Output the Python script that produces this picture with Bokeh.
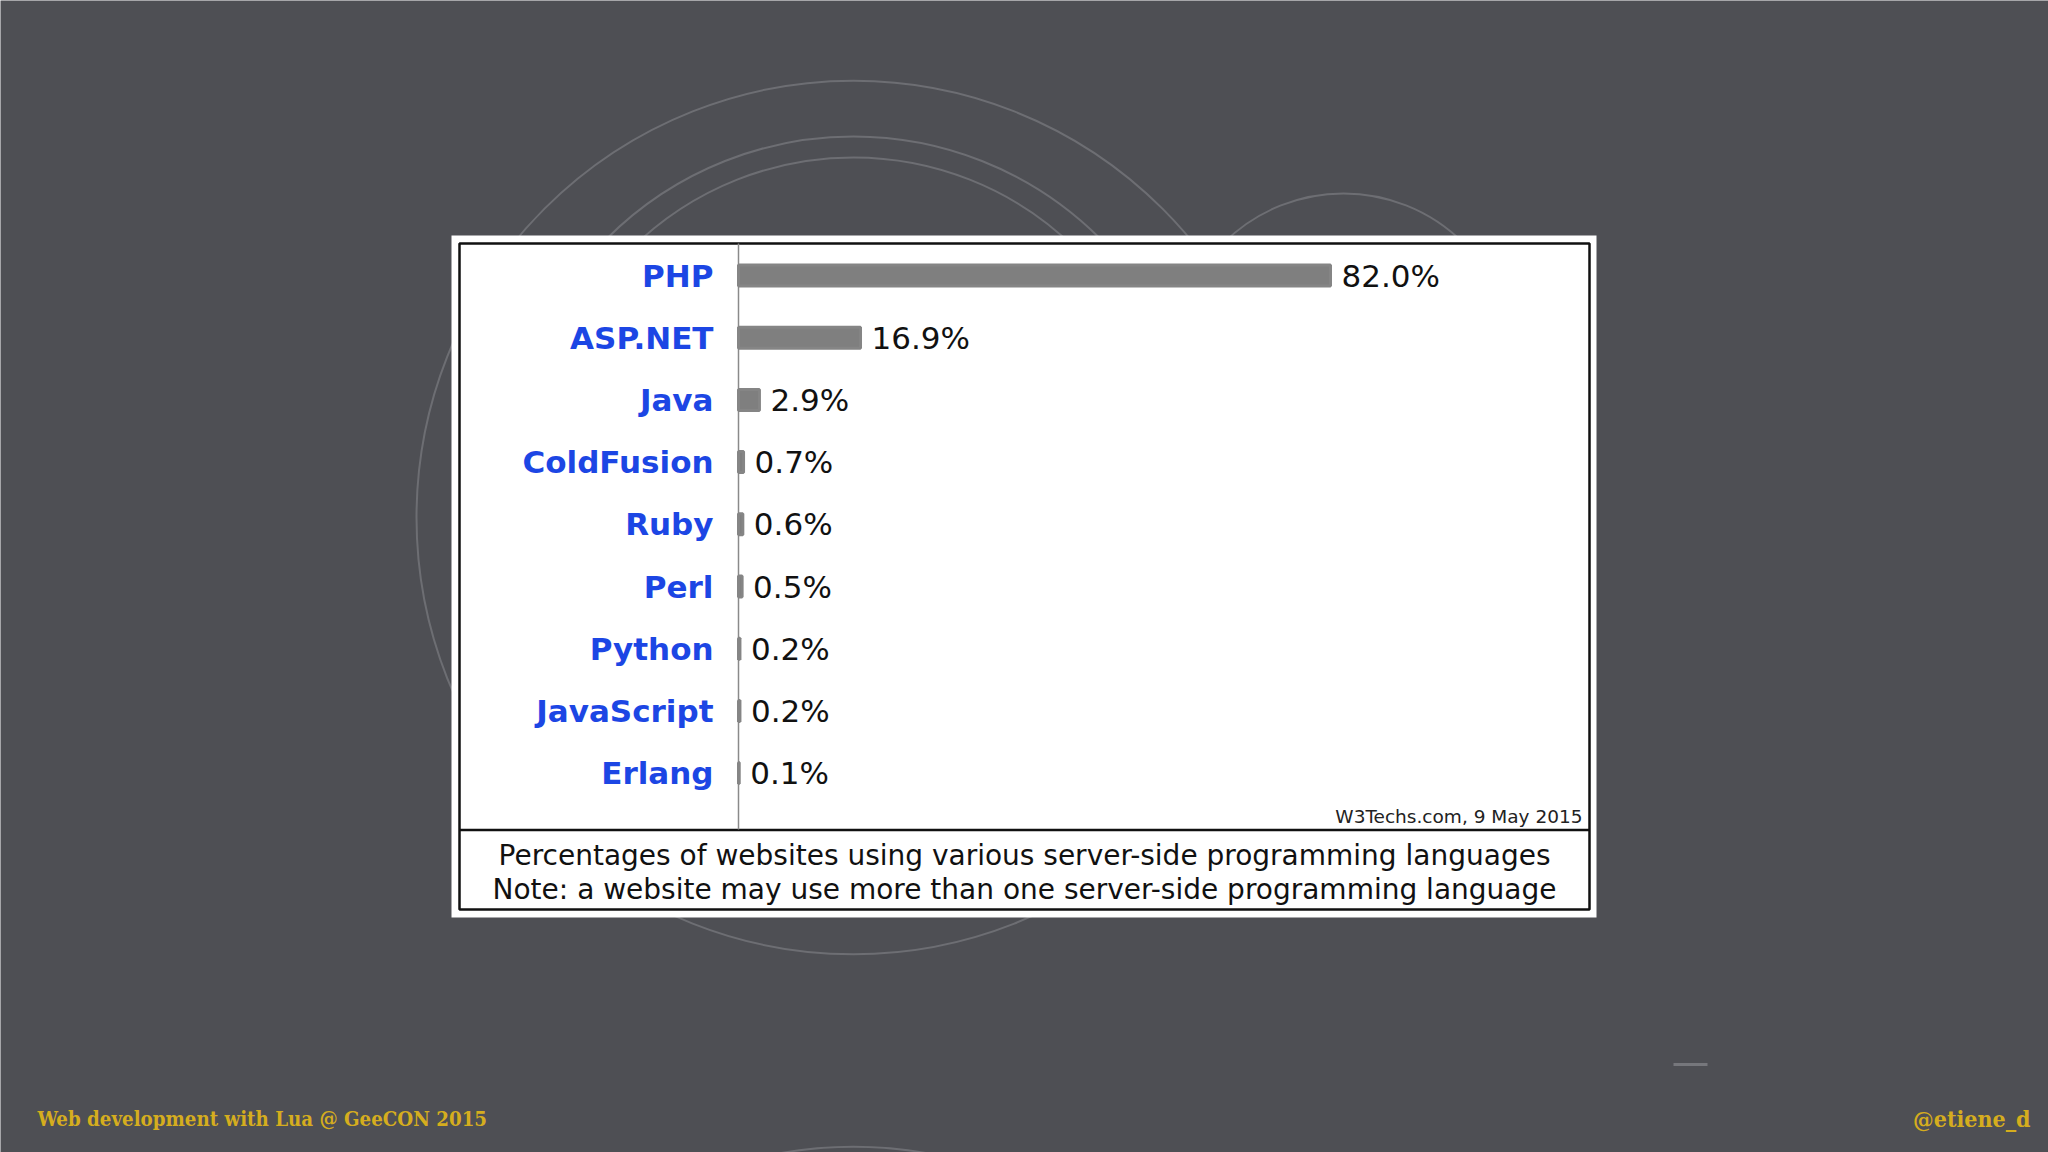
from bokeh.plotting import figure
from bokeh.models import Range1d, Label
from bokeh.core.properties import value
from bokeh.embed import file_html
from bokeh.resources import INLINE

# ---- data ----
languages = ["PHP", "ASP.NET", "Java", "ColdFusion", "Ruby", "Perl",
             "Python", "JavaScript", "Erlang"]
shares = [82.0, 16.9, 2.9, 0.7, 0.6, 0.5, 0.2, 0.2, 0.1]
share_labels = ["82.0%", "16.9%", "2.9%", "0.7%", "0.6%", "0.5%",
                "0.2%", "0.2%", "0.1%"]
source_note = "W3Techs.com, 9 May 2015"
caption_lines = ["Percentages of websites using various server-side programming languages",
                 "Note: a website may use more than one server-side programming language"]
footer_left = "Web development with Lua @ GeeCON 2015"
footer_right = "@etiene_d"

# ---- geometry (page pixels) ----
W, H, OFF = 2048, 1152, 0
X0 = 738.0            # page x of 0 %
SX = 592.0 / 82.0     # page px per percent
Y0 = 275.0            # page y of first row centre
ROW = 62.2            # page px per row

def X(px):
    return (px - X0) / SX

def Y(py):
    return (py - Y0) / ROW

BG = "#4e4f54"
ARC = "#6d6e73"
GOLD = "#d5ad1e"
BLUE = "#1c46e4"

p = figure(width=W, height=H, output_backend="svg", toolbar_location=None,
           x_range=Range1d(X(OFF), X(OFF + W)),
           y_range=Range1d(Y(OFF + H), Y(OFF)),
           x_axis_location=None, y_axis_location=None,
           min_border=0, background_fill_color=BG, border_fill_color=BG,
           outline_line_color=None)
p.grid.visible = False

# background arcs (circles partly hidden by the chart box)
circ_x = [X(853), X(853), X(853), X(1343), X(853)]
circ_y = [Y(517), Y(485), Y(473), Y(363), Y(1556)]
circ_d = [2 * 437, 2 * 349, 2 * 316, 2 * 170, 2 * 410]
p.scatter(x=circ_x, y=circ_y, size=circ_d, marker="circle",
          fill_color=None, line_color=ARC, line_width=2)

# small dash bottom right
p.segment(x0=[X(1673)], y0=[Y(1064)], x1=[X(1707)], y1=[Y(1064)],
          line_color="#76777c", line_width=3)

# chart box
p.quad(left=[X(451)], right=[X(1596)], top=[Y(235)], bottom=[Y(917)],
       fill_color="white", line_color=None)
p.quad(left=[X(459)], right=[X(1589)], top=[Y(243)], bottom=[Y(909)],
       fill_color=None, line_color="#111111", line_width=2.5)
# footer separator and axis divider
p.segment(x0=[X(459)], y0=[Y(829.5)], x1=[X(1589)], y1=[Y(829.5)],
          line_color="#111111", line_width=2.5)
p.segment(x0=[0], y0=[Y(243)], x1=[0], y1=[Y(829)],
          line_color="#8a8a8a", line_width=1.5)

idx = list(range(len(languages)))

p.hbar(y=idx, left=0, right=shares, height=21 / ROW,
       fill_color="#7f7f7f", line_color="#858585", line_width=3)

p.text(x=[0] * len(languages), y=idx, text=languages, x_offset=-25,
       text_align="right", text_baseline="middle",
       text_font=value("DejaVu Sans"), text_font_style="bold",
       text_font_size="31px", text_color=BLUE)

p.text(x=shares, y=idx, text=share_labels, x_offset=11,
       text_align="left", text_baseline="middle",
       text_font=value("DejaVu Sans"), text_font_size="31px",
       text_color="#111111")

p.add_layout(Label(x=X(1582), y=Y(816), text=source_note, text_align="right",
                   text_baseline="middle", text_font="DejaVu Sans",
                   text_font_size="18.5px", text_color="#222222"))
for line, yy in zip(caption_lines, [855, 889]):
    p.add_layout(Label(x=X(1024), y=Y(yy), text=line, text_align="center",
                       text_baseline="middle", text_font="DejaVu Sans",
                       text_font_size="28px", text_color="#111111"))

p.add_layout(Label(x=X(37), y=Y(1118), text=footer_left, text_align="left",
                   text_baseline="middle", text_font="DejaVu Serif Condensed",
                   text_font_style="bold", text_font_size="20.3px",
                   text_color=GOLD))
p.add_layout(Label(x=X(2030), y=Y(1118), text=footer_right, text_align="right",
                   text_baseline="middle", text_font="DejaVu Serif Condensed",
                   text_font_style="bold", text_font_size="23px",
                   text_color=GOLD))

open("out.html", "w").write(file_html(p, INLINE))
